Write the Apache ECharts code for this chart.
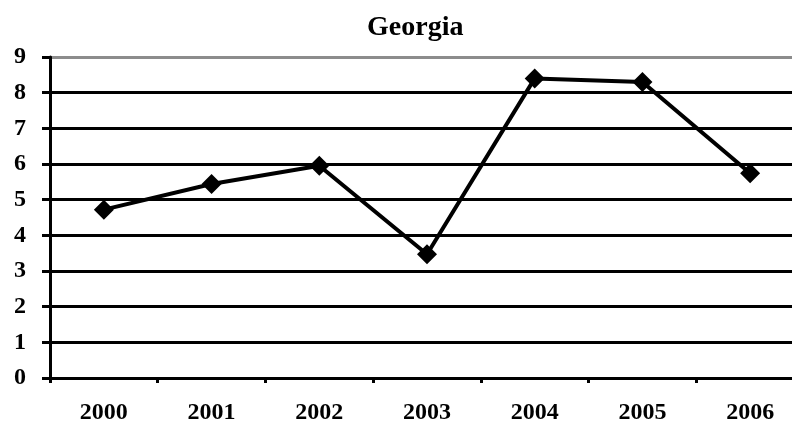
<!DOCTYPE html>
<html lang="en">

<head>
    <meta charset="UTF-8">
    <title>Georgia</title>
    <script src="https://cdn.jsdelivr.net/npm/echarts@6/dist/echarts.min.js"></script>
    <style>
        body {
            margin: 0;
        }

        #root {
            width: 792px;
            height: 423px;
        }
    </style>
</head>

<body>

    <div id="root"></div>
    <script>

        var years = ['2000', '2001', '2002', '2003', '2004', '2005', '2006'];
        var values = [4.72, 5.44, 5.95, 3.47, 8.4, 8.3, 5.74];
        // split line colours, index 0 = line at 0, index 9 = top border
        var gridColors = ['#000', '#000', '#000', '#000', '#000', '#000', '#000', '#000', '#000', '#8c8c8c'];

        var font = 'Liberation Serif, Times New Roman, serif';

        var mychart = echarts.init(document.getElementById('root'));

        mychart.setOption({
            animation: false,
            backgroundColor: '#fff',
            title: {
                text: 'Georgia',
                left: 362,
                top: 9,
                textStyle: {
                    fontFamily: font,
                    fontWeight: 'bold',
                    fontSize: 28,
                    color: '#000'
                }
            },
            grid: {
                // plot area runs past the right edge of the picture
                left: 50,
                width: 754,
                top: 57,
                bottom: 45,
                outerBoundsMode: 'none'
            },
            xAxis: {
                type: 'category',
                data: years,
                boundaryGap: true,
                axisLine: { lineStyle: { color: '#000', width: 3 } },
                axisTick: { show: true, length: 5, lineStyle: { color: '#000', width: 3 } },
                axisLabel: {
                    margin: 23,
                    fontFamily: font,
                    fontWeight: 'bold',
                    fontSize: 24,
                    color: '#000'
                }
            },
            yAxis: {
                type: 'value',
                min: 0,
                max: 9,
                interval: 1,
                axisLine: { show: true, lineStyle: { color: '#000', width: 3 } },
                axisTick: { show: true, length: 8, lineStyle: { color: '#000', width: 3 } },
                axisLabel: {
                    margin: 24,
                    fontFamily: font,
                    fontWeight: 'bold',
                    fontSize: 24,
                    color: '#000'
                },
                splitLine: { lineStyle: { color: gridColors, width: 3 } }
            },
            series: [{
                type: 'line',
                data: values,
                symbol: 'diamond',
                symbolSize: 20,
                lineStyle: { color: '#000', width: 4 },
                itemStyle: { color: '#000' }
            }]
        });

    </script>

</body>

</html>
